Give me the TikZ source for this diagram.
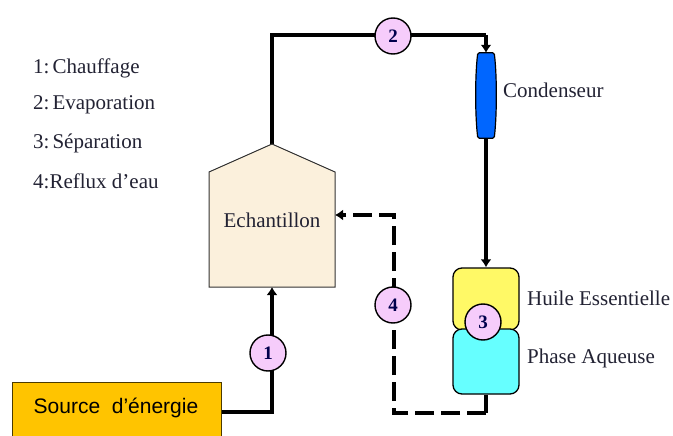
\documentclass[tikz,border=0pt]{standalone}
\usepackage{fontspec}
\setmainfont{Liberation Serif}
\newfontfamily\srcfont{Liberation Sans}
\usetikzlibrary{arrows.meta,backgrounds}
\definecolor{pinkc}{HTML}{F6CCFB}
\definecolor{yellowc}{HTML}{FFF966}
\definecolor{cyanc}{HTML}{66FFFF}
\definecolor{bluec}{HTML}{0066FF}
\definecolor{orangec}{HTML}{FFC400}
\definecolor{housec}{HTML}{FBF0DC}
\definecolor{textc}{HTML}{222233}
\tikzset{
  x=1pt,y=-1pt,
  lab/.style={font=\fontsize{21}{24}\selectfont,text=textc,inner sep=0pt,anchor=west},
  num/.style={circle,draw=black,line width=1.4pt,fill=pinkc,minimum size=36pt,inner sep=0pt,
    font=\fontsize{19}{21}\selectfont\bfseries,text=black!70!blue},
  pipe/.style={line width=4pt,line join=miter,draw=black},
  flow/.style={pipe,-{Latex[length=8pt,width=11pt]}},
  ret/.style={flow,dash pattern=on 19pt off 7pt},
  vessel/.style={draw=black,line width=1.3pt,rounded corners=9pt,minimum width=66pt,inner sep=0pt}
}
\begin{document}
\begin{tikzpicture}
\useasboundingbox (0,0) rectangle (673,436);

% vessels and boxes
\node[draw=black!70!orangec,line width=1pt,fill=orangec,minimum width=209pt,minimum height=56pt,inner sep=0pt,anchor=north west] (src) at (12,382) {};
\node[font=\srcfont\fontsize{21}{24}\selectfont,text=black,inner sep=0pt] (srclab) at (116,408) {Source\ \ d’énergie};

\coordinate (hb) at (272,287);
\coordinate (hl) at (209,172);
\coordinate (hr) at (335,172);
\coordinate (hbl) at (209,287);
\coordinate (hbr) at (335,287);
\coordinate (ht) at (272,144);
\draw[draw=black!80,line width=1pt,fill=housec] (ht) -- (hr) -- (hbr) -- (hbl) -- (hl) -- cycle;
\node[lab,anchor=center] (ech) at (272,220) {Echantillon};
\coordinate (hin) at (335,215);

\node[draw=none,minimum width=16pt,minimum height=85pt,inner sep=0pt] (cond) at (486,95.5) {};
\draw[fill=bluec,draw=black,line width=1.2pt,rounded corners=1.5pt]
  (cond.north west) .. controls (475,75) and (475,115) .. (cond.south west)
  -- (cond.south east) .. controls (497,115) and (497,75) .. (cond.north east) -- cycle;
\node[lab] (condlab) at (503,90) {Condenseur};

\node[vessel,fill=yellowc,minimum height=62pt] (oil) at (486,299) {};
\node[vessel,fill=cyanc,minimum height=65pt] (aq) at (486,361.5) {};
\node[lab] (oillab) at (527,298) {Huile Essentielle};
\node[lab] (aqlab) at (527,358) {Phase Aqueuse};

% numbered markers
\node[num] (n1) at (268,353) {1};
\node[num] (n2) at (393,36) {2};
\node[num] (n3) at (483,322) {3};
\node[num] (n4) at (393,305) {4};

% legend
\node[lab] (l1) at (33,68) {1:\hspace{3pt}Chauffage};
\node[lab] (l2) at (33,105) {2:\hspace{3pt}Evaporation};
\node[lab] (l3) at (33,143) {3:\hspace{3pt}Séparation};
\node[lab] (l4) at (33,181) {4:Reflux d’eau};

% connectors
\coordinate (c1a) at (272,412);
\coordinate (c2a) at (272,35);
\coordinate (c2b) at (486,35);
\coordinate (c4a) at (486,413);
\coordinate (c4b) at (394,413);
\coordinate (c4c) at (394,215);
\begin{scope}[on background layer]
  \draw[flow] (src.east |- c1a) -- (c1a) -- (hb);
  \draw[pipe] (ht) -- (c2a) -- (c2b);
  \draw[flow] (c2b) -- (cond.north);
  \draw[flow] (cond.south) -- (oil.north);
  \draw[pipe] (aq.south) -- (c4a);
  \draw[ret] (c4a) -- (c4b) -- (c4c) -- (hin);
\end{scope}
\end{tikzpicture}
\end{document}
